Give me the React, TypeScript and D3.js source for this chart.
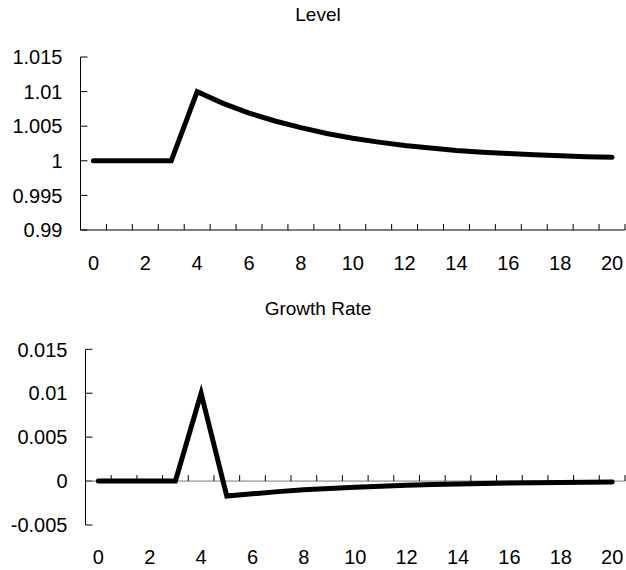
import React from "react";
import * as d3 from "d3";

const periods = d3.range(0, 21);
const xTickLabels = [0, 2, 4, 6, 8, 10, 12, 14, 16, 18, 20];

const levelValues = [
  1, 1, 1, 1, 1.01, 1.0083, 1.0069, 1.00575, 1.0048, 1.00395, 1.00325,
  1.0027, 1.0022, 1.00185, 1.0015, 1.00125, 1.00105, 1.00087, 1.00072,
  1.0006, 1.0005,
];
const growthValues = [
  0, 0, 0, 0, 0.01, -0.0017, -0.00145, -0.0012, -0.001, -0.00085, -0.0007,
  -0.00058, -0.00048, -0.0004, -0.00033, -0.00027, -0.00022, -0.00018,
  -0.00015, -0.00012, -0.0001,
];
const levelTicks = [0.99, 0.995, 1, 1.005, 1.01, 1.015];
const levelTickLabels = ["0.99", "0.995", "1", "1.005", "1.01", "1.015"];
const growthTicks = [-0.005, 0, 0.005, 0.01, 0.015];
const growthTickLabels = ["-0.005", "0", "0.005", "0.01", "0.015"];

const FONT = "'Liberation Sans', Arial, Helvetica, sans-serif";

type PanelProps = {
  title: string;
  titleY: number;
  values: number[];
  ticks: number[];
  tickLabels: string[];
  left: number;
  right: number;
  top: number;
  bottom: number;
  axisValue: number;
  axisColor: string;
  labelY: number;
};

function Panel(p: PanelProps) {
  const x = d3
    .scaleBand<number>()
    .domain(periods)
    .range([p.left, p.right])
    .paddingInner(0)
    .paddingOuter(0);
  const y = d3
    .scaleLinear()
    .domain([p.ticks[0], p.ticks[p.ticks.length - 1]])
    .range([p.bottom, p.top]);
  const bw = x.bandwidth();
  const cx = (d: number) => (x(d) as number) + bw / 2;
  const line = d3
    .line<number>()
    .x((_, i) => cx(periods[i]))
    .y((d) => y(d));
  const axisY = y(p.axisValue);
  const boundaries = periods.map((d) => x(d) as number).concat([p.right]);
  return (
    <g>
      <text
        x={318}
        y={p.titleY}
        textAnchor="middle"
        fontSize={19}
        fontFamily={FONT}
        fill="#000"
      >
        {p.title}
      </text>
      {/* y axis */}
      <line x1={p.left} x2={p.left} y1={p.top} y2={p.bottom} stroke="#000" strokeWidth={1} />
      {p.ticks.map((t, i) => (
        <g key={"yt" + i}>
          <line x1={p.left} x2={p.left + 7} y1={y(t)} y2={y(t)} stroke="#000" strokeWidth={1} />
          <text
            x={p.left - 18}
            y={y(t)}
            dy="0.36em"
            textAnchor="end"
            fontSize={20}
            fontFamily={FONT}
            fill="#000"
          >
            {p.tickLabels[i]}
          </text>
        </g>
      ))}
      {/* x axis */}
      <line x1={p.left} x2={p.right} y1={axisY} y2={axisY} stroke={p.axisColor} strokeWidth={1} />
      {boundaries.map((b, i) => (
        <line key={"xt" + i} x1={b} x2={b} y1={axisY} y2={axisY - 6} stroke="#000" strokeWidth={1} />
      ))}
      {xTickLabels.map((d) => (
        <text
          key={"xl" + d}
          x={cx(d)}
          y={p.labelY}
          dy="0.36em"
          textAnchor="middle"
          fontSize={20}
          fontFamily={FONT}
          fill="#000"
        >
          {d}
        </text>
      ))}
      <path
        d={line(p.values) || ""}
        fill="none"
        stroke="#000"
        strokeWidth={5}
        strokeLinejoin="miter"
        strokeLinecap="round"
      />
    </g>
  );
}

export default function App() {
  return (
    <svg
      width={626}
      height={570}
      style={{ position: "absolute", left: 0, top: 0, background: "#fff" }}
    >
      <rect x={0} y={0} width={626} height={570} fill="#fff" />
      <Panel
        title="Level"
        titleY={21}
        values={levelValues}
        ticks={levelTicks}
        tickLabels={levelTickLabels}
        left={80.5}
        right={625}
        top={57}
        bottom={230}
        axisValue={0.99}
        axisColor="#000"
        labelY={263}
      />
      <Panel
        title="Growth Rate"
        titleY={315}
        values={growthValues}
        ticks={growthTicks}
        tickLabels={growthTickLabels}
        left={85.5}
        right={625}
        top={349.3}
        bottom={525}
        axisValue={0}
        axisColor="#777"
        labelY={557}
      />
    </svg>
  );
}
